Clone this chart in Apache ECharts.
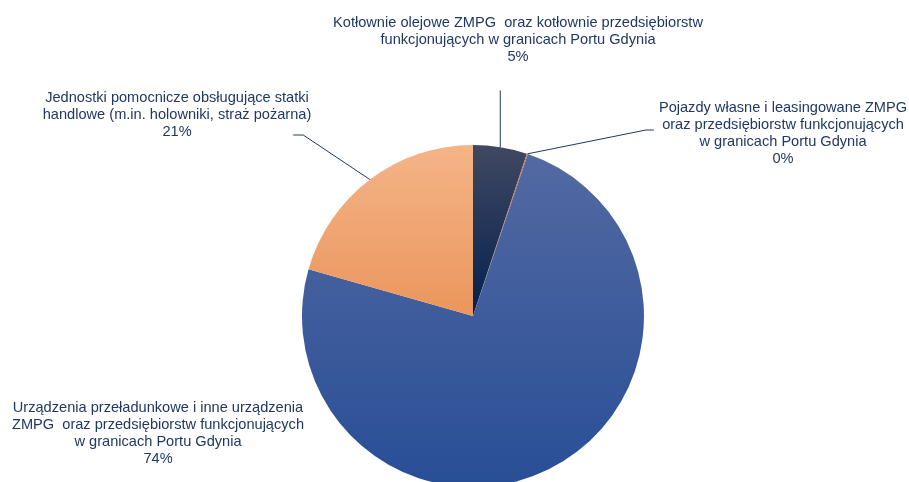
<!DOCTYPE html>
<html>
<head>
<meta charset="utf-8">
<script src="https://cdn.jsdelivr.net/npm/echarts@6/dist/echarts.min.js"></script>
<style>
    html, body {margin: 0; padding: 0; background: #fff;}
    #main {width: 909px; height: 482px;}
</style>
</head>
<body>
<div id="main"></div>
<script>
// nazwy kategorii (z podziałem linii jak na wykresie)
var names = [
    'Kotłownie olejowe ZMPG  oraz kotłownie przedsiębiorstw\nfunkcjonujących w granicach Portu Gdynia',
    'Pojazdy własne i leasingowane ZMPG\noraz przedsiębiorstw funkcjonujących\nw granicach Portu Gdynia',
    'Urządzenia przeładunkowe i inne urządzenia\nZMPG  oraz przedsiębiorstw funkcjonujących\nw granicach Portu Gdynia',
    'Jednostki pomocnicze obsługujące statki\nhandlowe (m.in. holowniki, straż pożarna)'
];
// udział procentowy
var values = [5.1, 0.1, 74.2, 20.6];
// kolory gradientu (góra, dół)
var colorsTop = ['#414862', '#d07a45', '#5369a2', '#f5b488'];
var colorsBottom = ['#03204e', '#b85a20', '#284e96', '#ea965c'];

// pozycje etykiet
var labelPos = [
    {x: 518, y: 40},
    {x: 783, y: 133},
    {x: 158, y: 433},
    {x: 177, y: 115}
];

var myChart = echarts.init(document.getElementById('main'));

var data = [];
for (let i = 0; i < values.length; i++) {
    data.push({
        name: names[i],
        value: values[i],
        itemStyle: {
            color: new echarts.graphic.LinearGradient(0, 0, 0, 1, [
                {offset: 0, color: colorsTop[i]},
                {offset: 1, color: colorsBottom[i]}
            ])
        },
        labelLine: {show: i !== 2}
    });
}

var option = {
    backgroundColor: '#fff',
    series: [
        {
            type: 'pie',
            center: [473, 316],
            radius: 171,
            startAngle: 90,
            clockwise: true,
            avoidLabelOverlap: false,
            itemStyle: {
                borderWidth: 0
            },
            label: {
                show: true,
                position: 'outside',
                fontFamily: 'Liberation Sans, Arial, sans-serif',
                fontSize: 14.6,
                lineHeight: 17,
                color: '#203864',
                align: 'center',
                formatter: function (p) {
                    return p.name + '\n' + Math.round(p.percent) + '%';
                }
            },
            labelLine: {
                show: true,
                length: 10,
                length2: 10,
                lineStyle: {
                    color: '#203864',
                    width: 1
                }
            },
            labelLayout: function (params) {
                var i = params.dataIndex;
                var p = labelPos[i];
                var w = params.labelRect.width;
                var h = params.labelRect.height;
                var left = p.x - w / 2, top = p.y - h / 2;
                var a = params.labelLinePoints ? params.labelLinePoints[0] : null;
                var res = {
                    x: p.x,
                    y: p.y,
                    align: 'center',
                    verticalAlign: 'middle'
                };
                if (a) {
                    if (i === 0) {
                        res.labelLinePoints = [a, [a[0], top + h + 25], [a[0], top + h + 25]];
                    } else if (i === 1) {
                        res.labelLinePoints = [a, [left - 13, p.y - 3], [left - 5, p.y - 3]];
                    } else if (i === 3) {
                        res.labelLinePoints = [a, [left + w - 8, p.y + 20], [left + w - 18, p.y + 20]];
                    }
                }
                return res;
            },
            emphasis: {disabled: true},
            data: data
        }
    ]
};
myChart.setOption(option);
</script>
</body>
</html>
